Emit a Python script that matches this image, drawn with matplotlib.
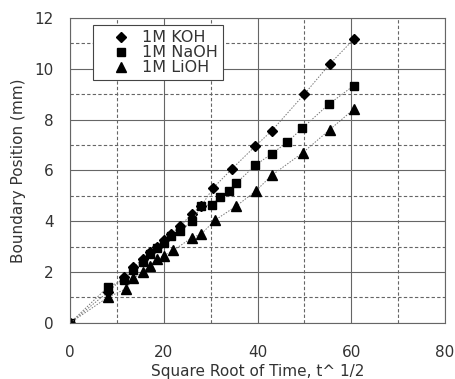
import matplotlib
matplotlib.use("Agg")
from matplotlib import pyplot as plt
from matplotlib.ticker import MultipleLocator

# data
koh_x = [0, 8, 11.5, 13.5, 15.5, 17, 18.5, 20, 21.5, 23.5, 26, 28, 30.5, 34.5, 39.5, 43, 50, 55.5, 60.5]
koh_y = [0, 1.2, 1.8, 2.2, 2.5, 2.8, 3.0, 3.25, 3.5, 3.8, 4.3, 4.6, 5.3, 6.05, 6.95, 7.55, 9.0, 10.2, 11.15]

naoh_x = [0, 8, 11.5, 13.5, 15.5, 17, 18.5, 20, 21.5, 23.5, 26, 28, 30.2, 32, 34, 35.5, 39.5, 43, 46.3, 49.5, 55.2, 60.5]
naoh_y = [0, 1.4, 1.7, 2.1, 2.4, 2.7, 2.95, 3.15, 3.4, 3.6, 4.0, 4.6, 4.65, 4.95, 5.2, 5.5, 6.2, 6.65, 7.1, 7.65, 8.6, 9.33]

lioh_x = [0, 8, 12, 13.5, 15.5, 17, 18.5, 20, 22, 26, 28, 31, 35.5, 39.7, 43, 49.7, 55.4, 60.5]
lioh_y = [0, 1.0, 1.35, 1.75, 2.0, 2.25, 2.5, 2.65, 2.85, 3.35, 3.5, 4.05, 4.6, 5.2, 5.8, 6.7, 7.6, 8.4]

labels = ["1M KOH", "1M NaOH", "1M LiOH"]

fig = plt.figure(figsize=(4.55, 3.79), dpi=100)
ax = fig.add_axes([0.154, 0.148, 0.824, 0.805])

line_kw = dict(color="#777777", linestyle=(0, (1.5, 1.5)), linewidth=0.7,
               markerfacecolor="black", markeredgecolor="black")
ax.plot(koh_x, koh_y, marker="D", markersize=5.5, label=labels[0], **line_kw)
ax.plot(naoh_x, naoh_y, marker="s", markersize=5.5, label=labels[1], **line_kw)
ax.plot(lioh_x, lioh_y, marker="^", markersize=7, label=labels[2], **line_kw)

ax.set_xlim(0, 80)
ax.set_ylim(0, 12)
ax.xaxis.set_major_locator(MultipleLocator(20))
ax.xaxis.set_minor_locator(MultipleLocator(10))
ax.yaxis.set_major_locator(MultipleLocator(2))
ax.yaxis.set_minor_locator(MultipleLocator(1))
ax.grid(which="major", color="#666666", linestyle="-", linewidth=0.8)
ax.grid(which="minor", color="#666666", linestyle=(0, (3, 2)), linewidth=0.8)
ax.set_axisbelow(True)
ax.tick_params(which="both", length=0)
ax.tick_params(axis="x", pad=16, labelsize=11, colors="#333333")
ax.tick_params(axis="y", pad=12, labelsize=11, colors="#333333")
for s in ax.spines.values():
    s.set_color("#666666")
    s.set_linewidth(0.8)

ax.set_xlabel("Square Root of Time, t^ 1/2", fontsize=11, color="#333333", labelpad=3)
ax.set_ylabel("Boundary Position (mm)", fontsize=11, color="#333333", labelpad=6)

leg = ax.legend(loc="upper left", bbox_to_anchor=(0.06, 0.975), borderaxespad=0,
                fontsize=11.5, frameon=True, fancybox=False, handlelength=2.9,
                handletextpad=-0.075, labelspacing=0.0, borderpad=0.3)
leg.get_frame().set_edgecolor("#444444")
leg.get_frame().set_linewidth(0.8)
leg.get_frame().set_alpha(1)
for h in leg.legend_handles:
    h.set_linestyle("none")
for t in leg.get_texts():
    t.set_color("#333333")

fig.savefig("out.png", dpi=100)
